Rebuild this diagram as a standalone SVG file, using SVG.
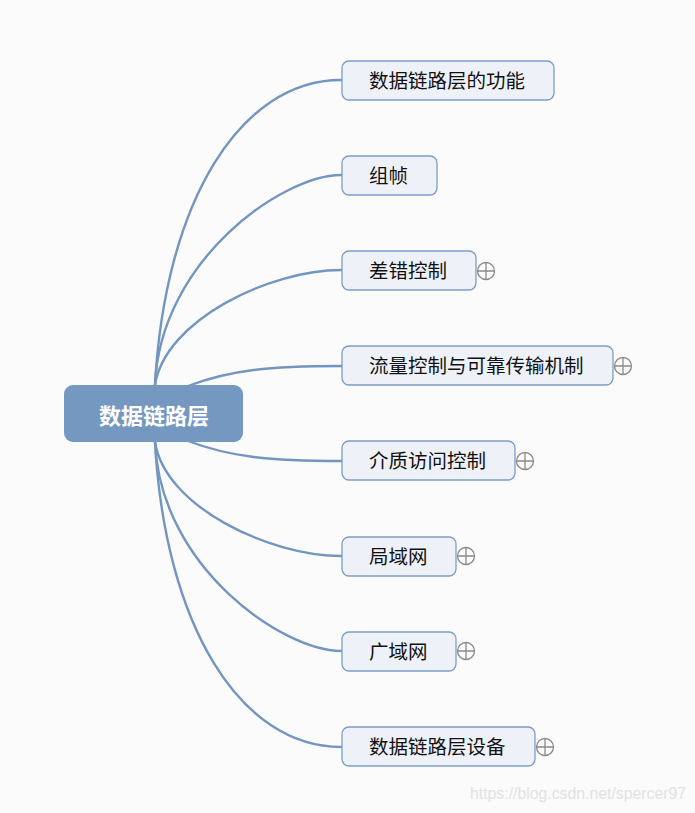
<svg xmlns="http://www.w3.org/2000/svg" width="695" height="813" viewBox="0 0 695 813">
<style>
.bg{fill:#fbfbfb}
.conn path{fill:none;stroke:#7396c0;stroke-width:2.4;stroke-linecap:round}
.node rect{fill:#eef2f8;stroke:#7b9dc7;stroke-width:1.3}
.node text{font-family:"Noto Sans CJK SC","Microsoft YaHei",sans-serif;font-size:19.5px;fill:#111}
.root rect{fill:#7598c1;stroke:none}
.root text{font-family:"Noto Sans CJK SC",sans-serif;font-size:22px;font-weight:bold;fill:#fff}
.plus circle{fill:#fbfbfb;stroke:#8a8a8a;stroke-width:1.3}
.plus path{stroke:#8a8a8a;stroke-width:1.3;fill:none}
.wm{font-family:"Liberation Sans",Arial,sans-serif;font-size:15.8px;fill:#e2e2e2}
</style>
<defs>
<g id="plusIcon" class="plus"><circle cx="0" cy="0" r="8.5"/><path d="M-8.5,0H8.5M0,-8.5V8.5"/></g>
</defs>
<rect class="bg" x="0" y="0" width="695" height="813"/>
<g id="connectors" class="conn">
<path d="M155,385 C165,202 240,80 341,80"/>
<path d="M155,385 C160,260 283,175 341,175"/>
<path d="M155,385 C165,320 270,270 341,270"/>
<path d="M188,386 C230,370 270,366 341,366"/>
<path d="M188,441 C230,457 270,461 341,461"/>
<path d="M155,442 C165,507 270,556 341,556"/>
<path d="M155,442 C160,567 283,651 341,651"/>
<path d="M155,442 C165,625 240,747 341,747"/>
</g>
<g id="root" class="root">
<rect x="64" y="385" width="179" height="57" rx="9"/>
<text x="154" y="424" text-anchor="middle">数据链路层</text>
</g>
<g id="n1" class="node"><rect x="342" y="61" width="212" height="39" rx="7"/><text x="369" y="87.5">数据链路层的功能</text></g>
<g id="n2" class="node"><rect x="342" y="156" width="95" height="39" rx="7"/><text x="369" y="182.5">组帧</text></g>
<g id="n3" class="node"><rect x="342" y="251" width="134" height="39" rx="7"/><text x="369" y="277.5">差错控制</text></g>
<use href="#plusIcon" x="486" y="271"/>
<g id="n4" class="node"><rect x="342" y="346" width="271" height="39" rx="7"/><text x="369" y="372.5">流量控制与可靠传输机制</text></g>
<use href="#plusIcon" x="623" y="366"/>
<g id="n5" class="node"><rect x="342" y="441" width="173" height="39" rx="7"/><text x="369" y="467.5">介质访问控制</text></g>
<use href="#plusIcon" x="525" y="461"/>
<g id="n6" class="node"><rect x="342" y="537" width="114" height="39" rx="7"/><text x="369" y="563.5">局域网</text></g>
<use href="#plusIcon" x="466" y="556"/>
<g id="n7" class="node"><rect x="342" y="632" width="114" height="39" rx="7"/><text x="369" y="658.5">广域网</text></g>
<use href="#plusIcon" x="466" y="651"/>
<g id="n8" class="node"><rect x="342" y="727" width="193" height="39" rx="7"/><text x="369" y="753.5">数据链路层设备</text></g>
<use href="#plusIcon" x="545" y="747"/>
<text class="wm" x="470" y="799">https://blog.csdn.net/spercer97</text>
</svg>
